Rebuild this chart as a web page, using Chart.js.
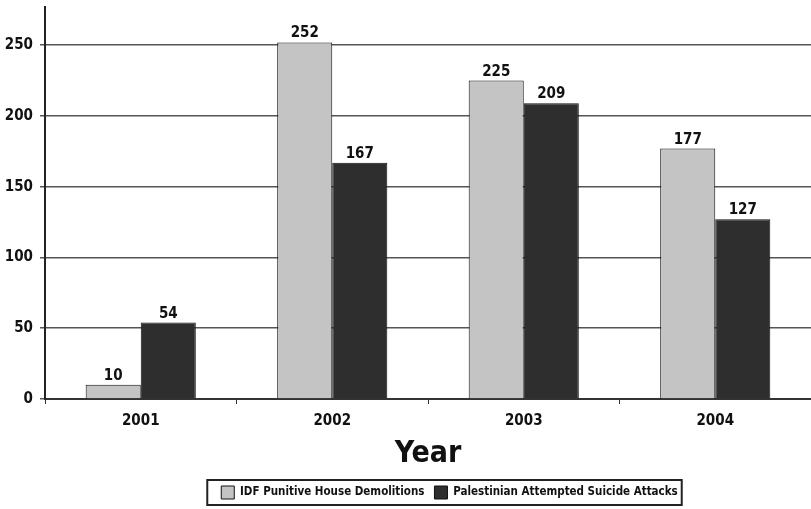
<!DOCTYPE html>
<html>
<head>
<meta charset="utf-8">
<script src="https://cdn.jsdelivr.net/npm/chart.js@4.4.1/dist/chart.umd.min.js"></script>
<style>
  html, body { margin: 0; padding: 0; background: #fff; }
  #wrap { width: 811px; height: 509px; }
</style>
</head>
<body>
<div id="wrap"><canvas id="demolitionsChart" width="811" height="509"></canvas></div>
<script>
const years = ['2001', '2002', '2003', '2004'];
const houseDemolitions = [10, 252, 225, 177];
const suicideAttacks = [54, 167, 209, 127];
const yTicks = [0, 50, 100, 150, 200, 250];

const FONT = "'DejaVu Sans Condensed', 'Liberation Sans Narrow', sans-serif";

// prints the value above each bar
const valueLabels = {
  id: 'valueLabels',
  afterDatasetsDraw(chart) {
    const ctx = chart.ctx;
    ctx.save();
    ctx.font = `bold 15px ${FONT}`;
    ctx.fillStyle = '#111';
    ctx.textAlign = 'center';
    ctx.textBaseline = 'alphabetic';
    chart.data.datasets.forEach((ds, i) => {
      chart.getDatasetMeta(i).data.forEach((bar, j) => {
        ctx.fillText(ds.data[j], bar.x, bar.y - 5);
      });
    });
    ctx.restore();
  }
};

// moves the legend to the right a bit and puts a frame round it
const legendFrame = {
  id: 'legendFrame',
  afterLayout(chart) {
    const lg = chart.legend;
    const dx = 44;
    lg.left += dx;
    lg.right += dx;
    lg.legendHitBoxes.forEach(hb => { hb.left += dx; });
  },
  afterDraw(chart) {
    const hbs = chart.legend.legendHitBoxes;
    if (!hbs.length) return;
    const left = Math.min(...hbs.map(h => h.left)) - 14;
    const right = Math.max(...hbs.map(h => h.left + h.width)) + 4;
    const top = Math.min(...hbs.map(h => h.top)) - 6;
    const bottom = Math.max(...hbs.map(h => h.top + h.height)) + 6;
    const ctx = chart.ctx;
    ctx.save();
    ctx.strokeStyle = '#222';
    ctx.lineWidth = 2;
    ctx.strokeRect(left, top, right - left, bottom - top);
    ctx.restore();
  }
};

new Chart(document.getElementById('demolitionsChart'), {
  type: 'bar',
  data: {
    labels: years,
    datasets: [
      {
        label: 'IDF Punitive House Demolitions',
        data: houseDemolitions,
        backgroundColor: '#c4c4c4',
        borderColor: '#111',
        borderWidth: 1
      },
      {
        label: 'Palestinian Attempted Suicide Attacks',
        data: suicideAttacks,
        backgroundColor: '#2e2e2e',
        borderColor: '#111',
        borderWidth: 1
      }
    ]
  },
  options: {
    responsive: false,
    animation: false,
    layout: { padding: { top: 7, right: 0, left: 0, bottom: 0 } },
    datasets: {
      bar: { categoryPercentage: 0.575, barPercentage: 1 }
    },
    plugins: {
      tooltip: { enabled: false },
      legend: {
        position: 'bottom',
        labels: {
          boxWidth: 13,
          boxHeight: 13,
          padding: 10,
          color: '#111',
          font: { family: FONT, size: 11.5, weight: 'bold' }
        }
      }
    },
    scales: {
      x: {
        afterFit: s => { s.height = 77; },
        grid: { drawOnChartArea: false, drawTicks: true, tickLength: 5, color: '#333', lineWidth: 1 },
        border: { color: '#333', width: 2 },
        ticks: { padding: 8, color: '#111', font: { family: FONT, size: 15, weight: 'bold' } },
        title: {
          display: true,
          text: 'Year',
          color: '#111',
          padding: { top: 4, bottom: 4 },
          font: { family: FONT, size: 30, weight: 'bold' }
        }
      },
      y: {
        min: 0,
        max: 277,
        afterFit: s => { s.width = 45; s.paddingTop = 0; s.paddingBottom = 0; },
        afterBuildTicks: s => { s.ticks = yTicks.map(v => ({ value: v })); },
        grid: { color: '#555', lineWidth: 1.5, tickLength: 5 },
        border: { color: '#222', width: 2 },
        ticks: { padding: 7, color: '#111', font: { family: FONT, size: 15, weight: 'bold' } }
      }
    }
  },
  plugins: [valueLabels, legendFrame]
});
</script>
</body>
</html>
